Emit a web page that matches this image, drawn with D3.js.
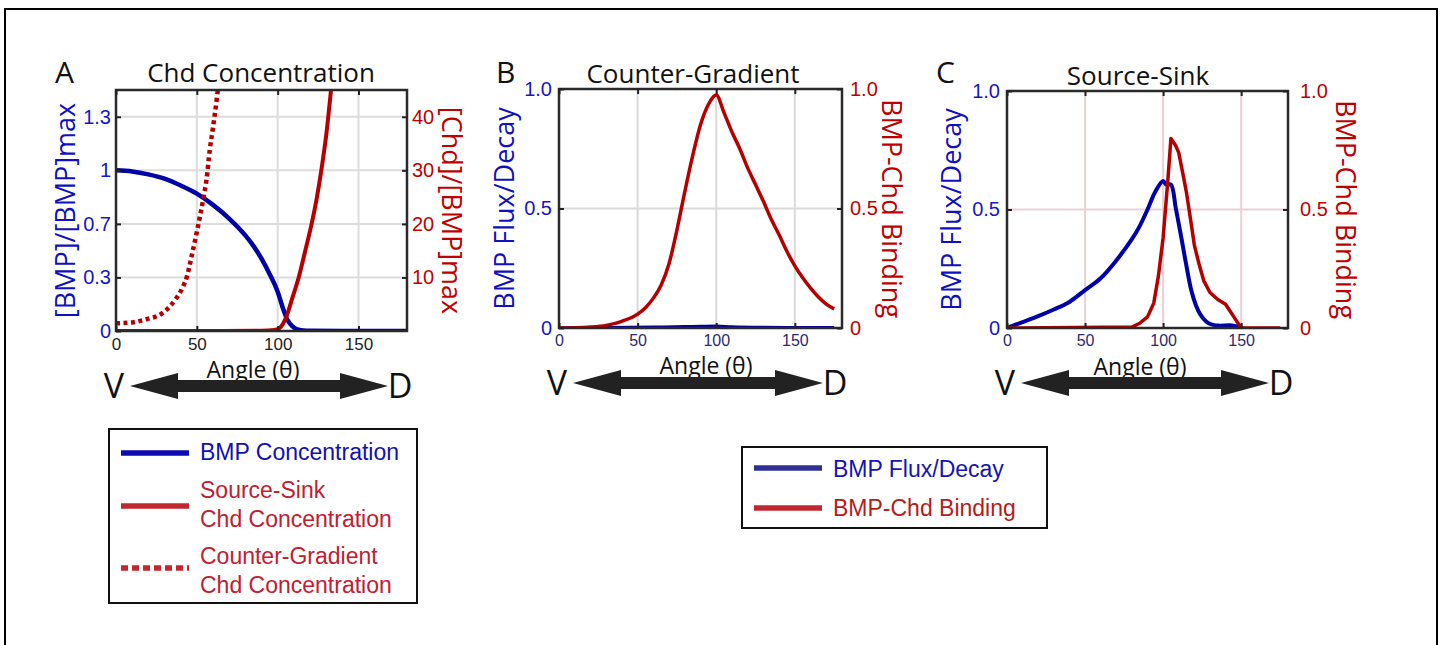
<!DOCTYPE html>
<html>
<head>
<meta charset="UTF-8" />
<title>BMP / Chd profiles</title>
<style>
  body { margin: 0; background: #fff; }
  svg { display: block; }
</style>
</head>
<body>
<svg width="1443" height="645"></svg>
<script src="https://d3js.org/d3.v7.min.js"></script>
<script>
// ---------- values ----------
// A: BMP concentration (left axis) and Chd concentration (right axis)
var angleBmpA = [0, 10, 20, 30, 40, 50, 60, 70, 80, 85, 90, 95, 100, 103, 106, 109, 112, 116, 120, 140, 180];
var bmpConcA  = [1, 0.993, 0.975, 0.948, 0.906, 0.855, 0.785, 0.70, 0.595, 0.53, 0.45, 0.355, 0.245, 0.15, 0.07, 0.03, 0.01, 0.003, 0.001, 0, 0];

var angleChdSS = [0, 50, 90, 98, 101, 103, 106, 109, 113, 117, 121, 124, 127, 130, 133, 134];
var chdSS      = [0, 0, 0.05, 0.2, 0.5, 1.2, 3.2, 6.1, 10, 14.9, 20, 24.5, 30, 36.5, 45, 48];

var angleChdCG = [0, 10, 20, 27, 33, 37, 41, 44, 47, 50, 52, 54, 56, 58, 60, 62, 63, 64];
var chdCG      = [1.44, 1.6, 2.3, 3, 4.5, 6, 8, 10.3, 14.3, 18.5, 21.5, 24.7, 28.3, 33.8, 38, 42.5, 45, 47];

// B: counter-gradient
var angleB   = [0, 10, 20, 30, 40, 50, 55, 60, 65, 70, 75, 80, 85, 90, 95, 100, 105, 110, 115, 120, 125, 130, 135, 140, 145, 150, 155, 160, 165, 170, 175];
var bindingB = [0, 0.001, 0.004, 0.011, 0.028, 0.058, 0.085, 0.125, 0.18, 0.27, 0.41, 0.57, 0.72, 0.85, 0.935, 0.975, 0.9, 0.82, 0.75, 0.67, 0.60, 0.53, 0.455, 0.39, 0.32, 0.26, 0.21, 0.167, 0.13, 0.10, 0.08];
var angleFluxB = [0, 30, 60, 80, 90, 100, 110, 130, 175];
var fluxB      = [0, 0.001, 0.003, 0.005, 0.006, 0.007, 0.004, 0.002, 0.001];

// C: source-sink
var angleFluxC = [0, 10, 20, 30, 40, 50, 60, 70, 80, 85, 90, 95, 100, 102, 105, 108, 110, 112, 115, 118, 121, 124, 128, 132, 136, 144, 150];
var fluxC      = [0, 0.025, 0.05, 0.078, 0.11, 0.16, 0.21, 0.285, 0.375, 0.43, 0.5, 0.575, 0.62, 0.605, 0.605, 0.51, 0.44, 0.37, 0.26, 0.16, 0.096, 0.055, 0.025, 0.013, 0.01, 0.011, 0.003];
var angleBindC = [0, 80, 85, 90, 94, 97, 100, 103, 105, 108, 110, 113, 115, 118, 120, 123, 126, 130, 135, 140, 142, 145, 150, 175];
var bindingC   = [0, 0.004, 0.02, 0.047, 0.105, 0.22, 0.38, 0.62, 0.80, 0.77, 0.74, 0.64, 0.57, 0.44, 0.35, 0.27, 0.20, 0.15, 0.12, 0.10, 0.08, 0.05, 0, 0];

// ticks
var xTicks = [0, 50, 100, 150];
var leftTicksA  = [0, 1 / 3, 2 / 3, 1, 4 / 3];
var leftLabelsA = ["0", "0.3", "0.7", "1", "1.3"];
var rightTicksA = [10, 20, 30, 40];
var unitTicks  = [0, 0.5, 1];
var unitLabels = ["0", "0.5", "1.0"];

// legends
var legendA = [
  { text: ["BMP Concentration"], color: "#0b0bb0", textColor: "#1010b8", dash: null },
  { text: ["Source-Sink", "Chd Concentration"], color: "#c1272d", textColor: "#c0202f", dash: null },
  { text: ["Counter-Gradient", "Chd Concentration"], color: "#c1272d", textColor: "#c0202f", dash: "7,4" }
];
var legendBC = [
  { text: ["BMP Flux/Decay"], color: "#2e3192", textColor: "#1414b4", dash: null },
  { text: ["BMP-Chd Binding"], color: "#c1272d", textColor: "#b81a1a", dash: null }
];

var BLUE = "#0000a8", RED = "#b40000";
var svg = d3.select("svg");

// outer frame
svg.append("rect").attr("x", 5).attr("y", 9).attr("width", 1432).attr("height", 650)
  .attr("fill", "none").attr("stroke", "#000").attr("stroke-width", 2);

var smooth = d3.curveCatmullRom.alpha(0.5), mono = d3.curveMonotoneX;

var panels = [
  { id: "A", left: 116, right: 407, top: 90, bottom: 331,
    letterX: 55, title: "Chd Concentration", titleX: 261, titleY: 82,
    leftDomain: [0, 1.5], rightDomain: [0, 45],
    leftTicks: leftTicksA, leftLabels: leftLabelsA, rightTicks: rightTicksA, rightLabels: rightTicksA.map(String),
    leftTitle: "[BMP]/[BMP]max", rightTitle: "[Chd]/[BMP]max", leftTitleX: 66, rightTitleX: 451,
    grid: "#dcdcdc", xLabelColor: "#222", xFont: 17, xPad: 7, xLabelX: 253, xLabelY: 378,
    lpad: 5, rpad: 5,
    series: [
      { a: angleBmpA, v: bmpConcA, axis: "L", color: BLUE, width: 4.5, dash: null, curve: mono },
      { a: angleChdSS, v: chdSS, axis: "R", color: RED, width: 4, dash: null, curve: mono },
      { a: angleChdCG, v: chdCG, axis: "R", color: RED, width: 4.5, dash: "4,3.5", curve: mono }
    ] },
  { id: "B", left: 559, right: 842, top: 89, bottom: 328,
    letterX: 496, title: "Counter-Gradient", titleX: 693, titleY: 83,
    leftDomain: [0, 1], rightDomain: [0, 1],
    leftTicks: unitTicks, leftLabels: unitLabels, rightTicks: unitTicks, rightLabels: unitLabels,
    leftTitle: "BMP Flux/Decay", rightTitle: "BMP-Chd Binding", leftTitleX: 505, rightTitleX: 891,
    grid: "#dadada", xLabelColor: "#2a2a70", xFont: 16, xPad: 7, xLabelX: 706, xLabelY: 374,
    lpad: 7, rpad: 8,
    series: [
      { a: angleFluxB, v: fluxB, axis: "L", color: BLUE, width: 3.5, dash: null, curve: mono },
      { a: angleB, v: bindingB, axis: "R", color: RED, width: 3.5, dash: null, curve: mono }
    ] },
  { id: "C", left: 1007, right: 1288, top: 91, bottom: 328,
    letterX: 936, title: "Source-Sink", titleX: 1138, titleY: 85,
    leftDomain: [0, 1], rightDomain: [0, 1],
    leftTicks: unitTicks, leftLabels: unitLabels, rightTicks: unitTicks, rightLabels: unitLabels,
    leftTitle: "BMP Flux/Decay", rightTitle: "BMP-Chd Binding", leftTitleX: 952, rightTitleX: 1345,
    grid: "#ecd0d4", xLabelColor: "#2a2a70", xFont: 16, xPad: 7, xLabelX: 1140, xLabelY: 375,
    lpad: 7, rpad: 12,
    series: [
      { a: angleFluxC, v: fluxC, axis: "L", color: BLUE, width: 4, dash: null, curve: smooth },
      { a: angleBindC, v: bindingC, axis: "R", color: RED, width: 3.5, dash: null, curve: d3.curveLinear }
    ] }
];

panels.forEach(drawPanel);

function styleAxis(g, size, color) {
  g.select(".domain").remove();
  g.selectAll(".tick line").attr("stroke", "#222").attr("stroke-width", 2);
  g.selectAll("text").attr("font-family", "Liberation Sans, Arial, sans-serif")
    .attr("font-size", size).attr("fill", color);
}

function drawPanel(p) {
  var g = svg.append("g").attr("id", "panel" + p.id);
  var x = d3.scaleLinear().domain([0, 180]).range([p.left, p.right]);
  var yL = d3.scaleLinear().domain(p.leftDomain).range([p.bottom, p.top]);
  var yR = d3.scaleLinear().domain(p.rightDomain).range([p.bottom, p.top]);

  // grid lines
  g.append("g").selectAll("line").data(xTicks.filter(d => d > 0)).enter().append("line")
    .attr("x1", d => x(d)).attr("x2", d => x(d)).attr("y1", p.top).attr("y2", p.bottom)
    .attr("stroke", p.grid).attr("stroke-width", 2);
  g.append("g").selectAll("line").data(p.leftTicks.filter(d => d > 0)).enter().append("line")
    .attr("x1", p.left).attr("x2", p.right).attr("y1", d => yL(d)).attr("y2", d => yL(d))
    .attr("stroke", p.grid).attr("stroke-width", 2);

  // curves
  g.append("clipPath").attr("id", "clip" + p.id).append("rect")
    .attr("x", p.left).attr("y", p.top).attr("width", p.right - p.left).attr("height", p.bottom - p.top);
  var plot = g.append("g").attr("clip-path", "url(#clip" + p.id + ")");
  p.series.forEach(function (s) {
    var y = s.axis === "L" ? yL : yR;
    var line = d3.line().x((d, i) => x(s.a[i])).y(d => y(d)).curve(s.curve);
    plot.append("path").attr("d", line(s.v)).attr("fill", "none")
      .attr("stroke", s.color).attr("stroke-width", s.width)
      .attr("stroke-dasharray", s.dash).attr("stroke-linejoin", "round");
  });

  // box
  g.append("rect").attr("x", p.left).attr("y", p.top)
    .attr("width", p.right - p.left).attr("height", p.bottom - p.top)
    .attr("fill", "none").attr("stroke", "#2a2a2a").attr("stroke-width", 2.5);

  // axes
  var ax = g.append("g").attr("transform", "translate(0," + p.bottom + ")")
    .call(d3.axisBottom(x).tickValues(xTicks).tickSizeInner(-5).tickSizeOuter(0).tickPadding(p.xPad));
  styleAxis(ax, p.xFont, p.xLabelColor);
  var at = g.append("g").attr("transform", "translate(0," + p.top + ")")
    .call(d3.axisTop(x).tickValues(xTicks).tickSizeInner(-5).tickSizeOuter(0).tickFormat(""));
  styleAxis(at, 1, "none");

  var al = g.append("g").attr("transform", "translate(" + p.left + ",0)")
    .call(d3.axisLeft(yL).tickValues(p.leftTicks).tickFormat((d, i) => p.leftLabels[i])
      .tickSizeInner(-5).tickSizeOuter(0).tickPadding(p.lpad));
  styleAxis(al, 20, "#1616c4");
  var ar = g.append("g").attr("transform", "translate(" + p.right + ",0)")
    .call(d3.axisRight(yR).tickValues(p.rightTicks).tickFormat((d, i) => p.rightLabels[i])
      .tickSizeInner(-5).tickSizeOuter(0).tickPadding(p.rpad));
  styleAxis(ar, 20, "#c00000");

  // titles
  var midY = (p.top + p.bottom) / 2;
  g.append("text").attr("x", p.letterX).attr("y", 83).text(p.id)
    .attr("font-family", "Open Sans").attr("font-size", 30).attr("fill", "#111");
  g.append("text").attr("x", p.titleX).attr("y", p.titleY).text(p.title)
    .attr("text-anchor", "middle").attr("font-family", "Open Sans").attr("font-size", 26).attr("fill", "#111");
  g.append("text").attr("transform", "translate(" + p.leftTitleX + "," + midY + ") rotate(-90)")
    .attr("dy", "0.35em").attr("text-anchor", "middle").text(p.leftTitle)
    .attr("font-family", "Open Sans").attr("font-size", 27).attr("fill", "#1010c0");
  g.append("text").attr("transform", "translate(" + p.rightTitleX + "," + midY + ") rotate(90)")
    .attr("dy", "0.35em").attr("text-anchor", "middle").text(p.rightTitle)
    .attr("font-family", "Open Sans").attr("font-size", 27).attr("fill", "#c00000");
  g.append("text").attr("x", p.xLabelX).attr("y", p.xLabelY).text("Angle (θ)")
    .attr("text-anchor", "middle").attr("font-family", "Open Sans").attr("font-size", 23).attr("fill", "#111");

  // V <-> D arrow under the axis
  var ay = p.bottom + 55, x0 = x(0) + 14, x1 = x(180) - 19, head = 48, hh = 13, sh = 6;
  var pts = [[x0, ay], [x0 + head, ay - hh], [x0 + head, ay - sh], [x1 - head, ay - sh], [x1 - head, ay - hh],
    [x1, ay], [x1 - head, ay + hh], [x1 - head, ay + sh], [x0 + head, ay + sh], [x0 + head, ay + hh]];
  g.append("path").attr("d", d3.line()(pts) + "Z").attr("fill", "#222");
  g.append("text").attr("x", x0 - 16).attr("y", ay + 12).text("V").attr("text-anchor", "middle")
    .attr("font-family", "Open Sans").attr("font-size", 34).attr("fill", "#111");
  g.append("text").attr("x", x1 + 12).attr("y", ay + 12).text("D").attr("text-anchor", "middle")
    .attr("font-family", "Open Sans").attr("font-size", 34).attr("fill", "#111");
}

// legends
function drawLegend(items, box, rows) {
  var g = svg.append("g");
  g.append("rect").attr("x", box.x).attr("y", box.y).attr("width", box.w).attr("height", box.h)
    .attr("fill", "#fff").attr("stroke", "#111").attr("stroke-width", 2);
  items.forEach(function (it, i) {
    var r = rows[i];
    g.append("line").attr("x1", box.x + 12).attr("x2", box.x + 80).attr("y1", r.line).attr("y2", r.line)
      .attr("stroke", it.color).attr("stroke-width", 5.5).attr("stroke-dasharray", it.dash);
    it.text.forEach(function (t, j) {
      g.append("text").attr("x", box.x + 91).attr("y", r.base + j * 29).text(t)
        .attr("font-family", "Liberation Sans, Arial, sans-serif").attr("font-size", 23).attr("fill", it.textColor);
    });
  });
}
drawLegend(legendA, { x: 109, y: 429, w: 308, h: 174 },
  [{ line: 453, base: 460 }, { line: 506, base: 498 }, { line: 568, base: 564 }]);
drawLegend(legendBC, { x: 742, y: 447, w: 305, h: 81 },
  [{ line: 468, base: 477 }, { line: 508, base: 516 }]);
</script>
</body>
</html>
